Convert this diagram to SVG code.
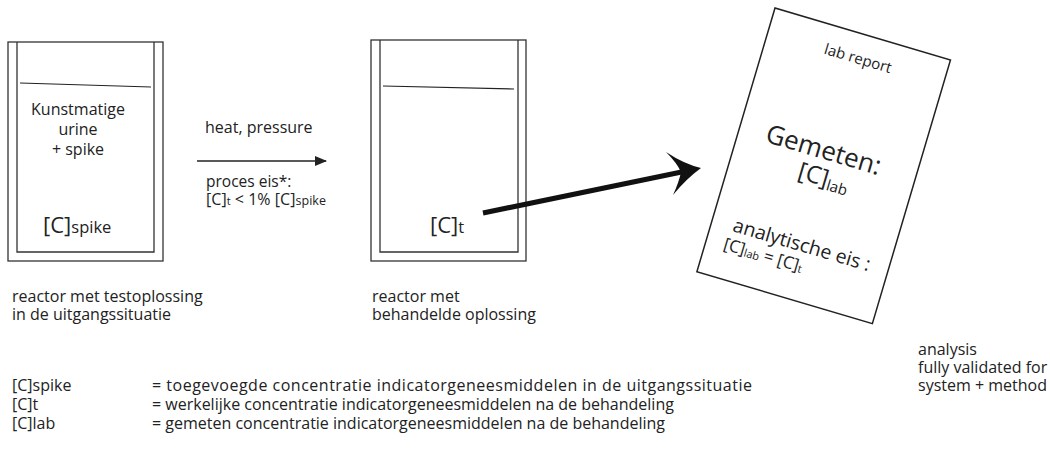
<svg xmlns="http://www.w3.org/2000/svg" width="1050" height="450" viewBox="0 0 1050 450">
<defs>
<style>
text{font-family:"Open Sans","Noto Sans",sans-serif;fill:#222;}
.ln{fill:none;stroke:#333;stroke-width:1.3;}
.lq{fill:none;stroke:#222;stroke-width:1.2;}
.cap{font-size:16px;}
.lg{font-size:16px;}
</style>
<marker id="ah" viewBox="0 0 12 10" refX="11" refY="5" markerWidth="12" markerHeight="10" markerUnits="userSpaceOnUse" orient="auto">
<path d="M0,0 L12,5 L0,10 Z" fill="#222"/>
</marker>
</defs>
<rect width="1050" height="450" fill="#fff"/>

<g id="reactor1">
<rect class="ln" x="8" y="42" width="155" height="219"/>
<path class="ln" d="M17,42 V252 H154 V42"/>
<path class="lq" d="M20,83 L151,87"/>
<text x="78" y="115" font-size="16" text-anchor="middle">Kunstmatige</text>
<text x="78" y="135" font-size="16" text-anchor="middle">urine</text>
<text x="78" y="155" font-size="16" text-anchor="middle">+ spike</text>
<text x="43" y="233" font-size="22">[C]<tspan font-size="16.5">spike</tspan></text>
</g>

<g id="reactor2">
<rect class="ln" x="371" y="40" width="155" height="221"/>
<path class="ln" d="M380,40 V252 H518 V40"/>
<path class="lq" d="M383,86 L514,89"/>
<text x="430" y="233" font-size="22">[C]<tspan font-size="16.5">t</tspan></text>
</g>

<g id="report" transform="translate(775,8) rotate(16.5)">
<rect x="0" y="0" width="183" height="275" fill="none" stroke="#222" stroke-width="1.5"/>
<text x="94" y="30" font-size="15" text-anchor="middle">lab report</text>
<text x="87" y="131" font-size="26" text-anchor="middle">Gemeten:</text>
<text x="95" y="157" font-size="24" text-anchor="middle">[C]<tspan font-size="15" dy="3">lab</tspan></text>
<text x="93" y="226" font-size="19.5" text-anchor="middle">analytische eis :</text>
<text x="18" y="246" font-size="17">[C]<tspan font-size="11" dy="1">lab</tspan><tspan dy="-1"> = [C]</tspan><tspan font-size="11" dy="1">t</tspan></text>
</g>

<g id="connectors">
<line x1="197" y1="161" x2="326" y2="161" stroke="#222" stroke-width="1.3" marker-end="url(#ah)"/>
<line x1="483" y1="213" x2="684" y2="171.5" stroke="#111" stroke-width="5"/>
<path d="M701,168 Q684,164 666,152 Q677,163 681,172 Q679,182 673,195 Q686,179 701,168 Z" fill="#111"/>
</g>

<g id="arrow-labels">
<text x="205" y="133" font-size="16">heat, pressure</text>
<text x="206" y="187" font-size="15.5">proces eis*:</text>
<text x="206" y="205" font-size="16" textLength="120" lengthAdjust="spacing">[C]<tspan font-size="11">t</tspan> &lt;  1% [C]<tspan font-size="12.5">spike</tspan></text>
</g>

<g id="captions">
<text class="cap" x="12" y="302">reactor met testoplossing</text>
<text class="cap" x="12" y="320">in de uitgangssituatie</text>
<text class="cap" x="372" y="302">reactor met</text>
<text class="cap" x="372" y="320">behandelde oplossing</text>
<text class="cap" x="918" y="355">analysis</text>
<text class="cap" x="918" y="373">fully validated for</text>
<text class="cap" x="918" y="391">system + method</text>
</g>

<g id="legend">
<text class="lg" x="12" y="391">[C]spike</text>
<text class="lg" x="12" y="410">[C]t</text>
<text class="lg" x="12" y="429">[C]lab</text>
<text class="lg" x="152" y="391" textLength="600" lengthAdjust="spacing">= toegevoegde concentratie indicatorgeneesmiddelen in de uitgangssituatie</text>
<text class="lg" x="152" y="410">= werkelijke concentratie indicatorgeneesmiddelen na de behandeling</text>
<text class="lg" x="152" y="429">= gemeten concentratie indicatorgeneesmiddelen na de behandeling</text>
</g>
</svg>
